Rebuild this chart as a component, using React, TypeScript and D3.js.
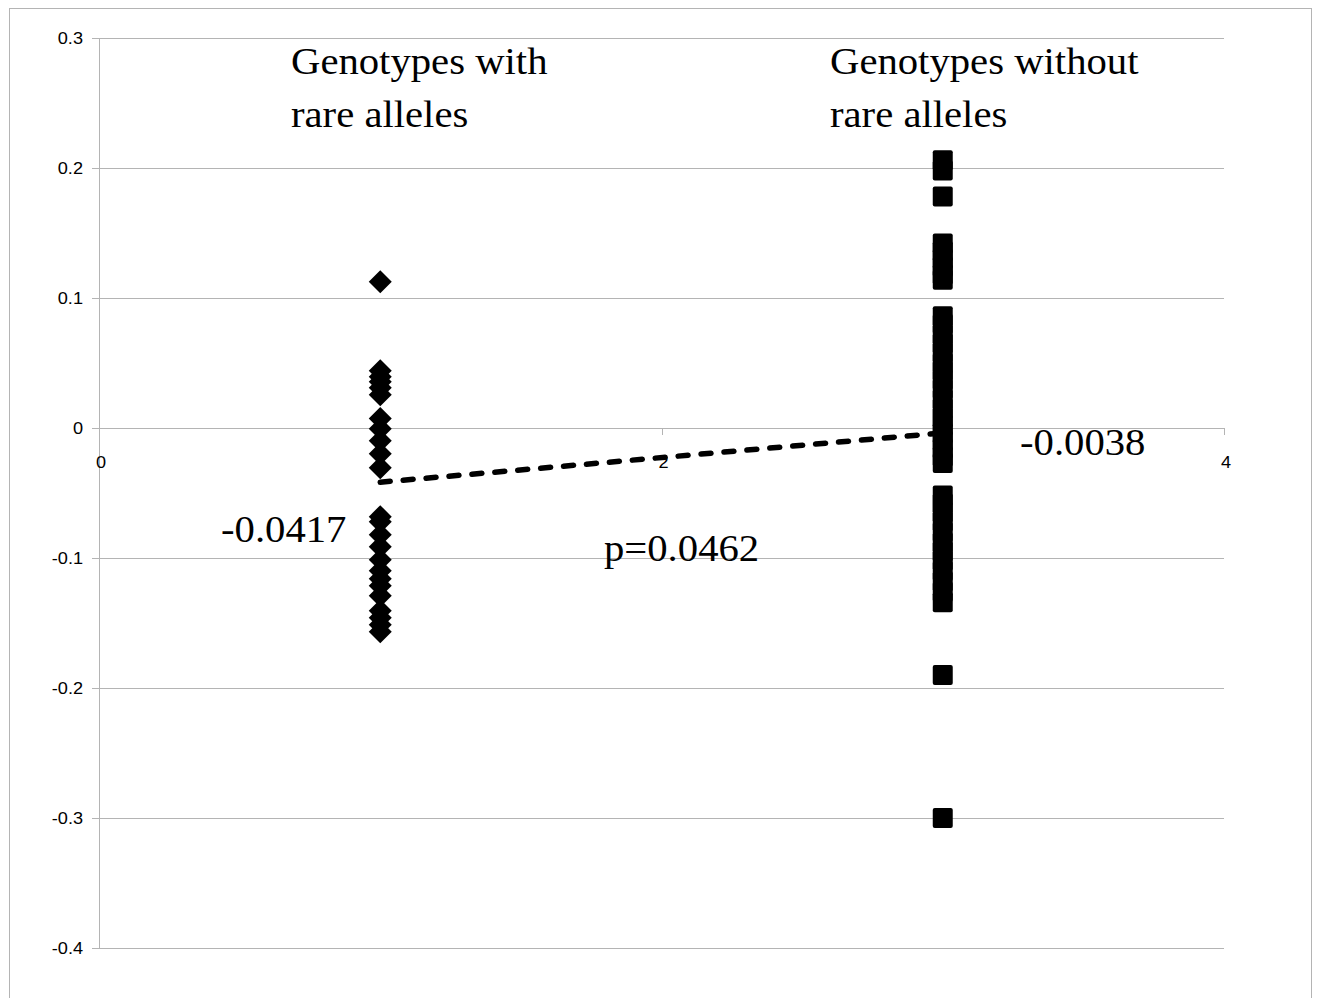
import React from 'react';
import * as d3 from 'd3';

// values
const withRare = [
  0.1125,
  0.0441, 0.0395, 0.0356, 0.031, 0.0256,
  0.0074, -0.0005, -0.0098, -0.0198, -0.0305,
  -0.0682, -0.0721, -0.0821, -0.0913, -0.1013, -0.1098, -0.1159,
  -0.1213, -0.129, -0.1405, -0.1459, -0.1513, -0.1567,
];
const withoutRare = [
  0.206, 0.198, 0.178,
  0.142, 0.136, 0.13, 0.124, 0.118, 0.114,
  0.086, 0.08, 0.072, 0.065, 0.058, 0.05, 0.044, 0.037, 0.03, 0.022,
  0.015, 0.008, 0.002, -0.004, -0.01, -0.016, -0.022, -0.027,
  -0.052, -0.058, -0.065, -0.072, -0.08, -0.088, -0.095, -0.102,
  -0.11, -0.118, -0.126, -0.134,
  -0.19, -0.3,
];
const groupX = [1, 3];
const means = [-0.0417, -0.0038];
const pValue = 'p=0.0462';
const yTicks = [0.3, 0.2, 0.1, 0, -0.1, -0.2, -0.3, -0.4];
const xTicks = [0, 2, 4];

const W = 1318;
const H = 998;

const fmtY = (t: number) => (t === 0 ? '0' : d3.format('.1f')(t).replace('\u2212', '-'));

export default function App() {
  const x = d3.scaleLinear().domain([0, 4]).range([99, 1224]);
  const y = d3.scaleLinear().domain([-0.4, 0.3]).range([948, 38]);
  const diamond = d3.symbol().type(d3.symbolDiamond2).size(337)();
  const meanLine = d3.line<number>()
    .x((d, i) => x(groupX[i]))
    .y(d => y(d))(means);

  const grid = '#b4b4b4';
  const sans = "'Liberation Sans', Arial, sans-serif";
  const serif = "'Liberation Serif', 'Times New Roman', serif";
  const big = (tx: number, ty: number, s: string) => (
    <text transform={`translate(${tx},${ty}) scale(1.1,1)`} style={{fontFamily: serif}} fontSize={37} fill="#000">{s}</text>
  );

  return (
    <svg width={W} height={H} style={{position: 'absolute', left: 0, top: 0, background: '#fff'}}>
      <rect x={9.5} y={8.5} width={1302} height={1010} fill="#fff" stroke={grid} />
      {yTicks.map(t => (
        <g key={t}>
          <line x1={92} x2={x(4)} y1={Math.round(y(t)) + 0.5} y2={Math.round(y(t)) + 0.5} stroke={grid} />
          <text transform={`translate(83,${y(t) + 6}) scale(1.1,1)`} textAnchor="end" style={{fontFamily: sans}} fontSize={16.5} fill="#000">
            {fmtY(t)}
          </text>
        </g>
      ))}
      <line x1={99.5} x2={99.5} y1={y(0.3)} y2={y(-0.4)} stroke={grid} />
      {xTicks.map(t => (
        <g key={t}>
          <line x1={Math.round(x(t)) + 0.5} x2={Math.round(x(t)) + 0.5} y1={y(0)} y2={y(0) + 7} stroke={grid} />
          <text transform={`translate(${x(t) + 2},${y(0) + 40}) scale(1.1,1)`} textAnchor="middle" style={{fontFamily: sans}} fontSize={16.5} fill="#000">{t}</text>
        </g>
      ))}
      <path d={meanLine || ''} fill="none" stroke="#000" strokeWidth={5.5} strokeDasharray="10 13" strokeLinecap="round" />
      {withRare.map((v, i) => (
        <path key={i} d={diamond || ''} transform={`translate(${x(groupX[0])},${y(v)})`} fill="#000" />
      ))}
      {withoutRare.map((v, i) => (
        <rect key={i} x={x(groupX[1]) - 10} y={y(v) - 10} width={20} height={20} rx={2} fill="#000" />
      ))}
      {big(291, 74, 'Genotypes with')}
      {big(291, 127, 'rare alleles')}
      {big(830, 74, 'Genotypes without')}
      {big(830, 127, 'rare alleles')}
      {big(221, 542, String(means[0]))}
      {big(1020, 455, String(means[1]))}
      {big(604, 561, pValue)}
    </svg>
  );
}
